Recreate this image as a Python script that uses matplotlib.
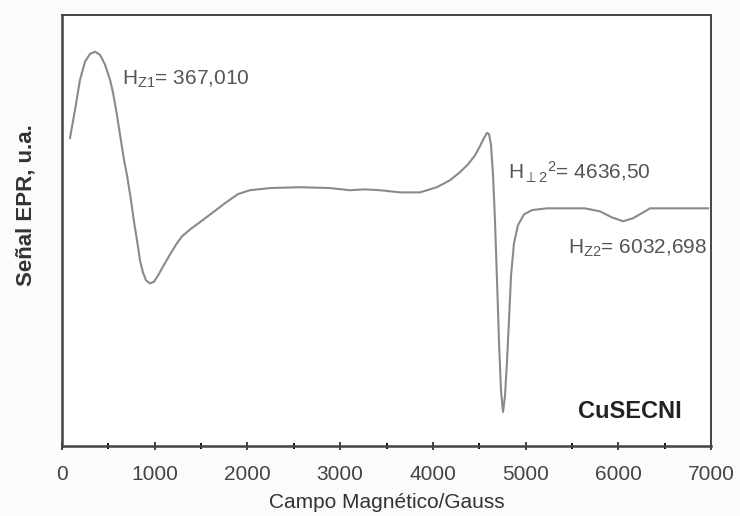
import numpy as np
import matplotlib.pyplot as plt

plt.rcParams['font.family'] = ['Liberation Sans', 'DejaVu Sans']
plt.rcParams['mathtext.fontset'] = 'custom'
plt.rcParams['mathtext.rm'] = 'Liberation Sans'
plt.rcParams['mathtext.it'] = 'Liberation Sans'

# campo magnetico (G) y señal EPR (u.a.)
campo = [86, 140, 194, 248, 302, 356, 410, 464, 518, 550, 593, 626, 669, 701,
         744, 777, 809, 841, 874, 906, 949, 992, 1035, 1089, 1165, 1230, 1294,
         1381, 1488, 1618, 1758, 1898, 2027, 2243, 2567, 2890, 3106, 3268,
         3430, 3645, 3861, 4044, 4184, 4293, 4379, 4455, 4508, 4552, 4584,
         4606, 4627, 4649, 4670, 4692, 4713, 4735, 4757, 4778, 4800, 4821,
         4843, 4875, 4918, 4983, 5069, 5231, 5425, 5641, 5803, 5932, 6051,
         6159, 6256, 6342, 6364, 6968]
senal = [71.4, 77.9, 84.9, 89.1, 90.9, 91.4, 90.7, 88.4, 84.9, 81.9, 76.7,
         72.1, 66.3, 62.8, 57.0, 51.9, 47.7, 43.0, 40.2, 38.4, 37.7, 38.1,
         39.5, 41.6, 44.4, 46.7, 48.6, 50.2, 51.9, 54.0, 56.3, 58.4, 59.3,
         59.8, 60.0, 59.8, 59.3, 59.5, 59.3, 58.8, 58.8, 60.0, 61.6, 63.5,
         65.3, 67.4, 69.5, 71.4, 72.6, 72.3, 69.8, 62.8, 52.3, 38.4, 24.4,
         12.8, 7.9, 11.6, 19.8, 29.1, 39.5, 47.0, 51.2, 53.7, 54.7, 55.1,
         55.1, 55.1, 54.4, 53.0, 52.1, 52.8, 54.0, 55.1, 55.1, 55.1]

xticks = [0, 1000, 2000, 3000, 4000, 5000, 6000, 7000]

fig = plt.figure(figsize=(7.4, 5.16), dpi=100)
ax = fig.add_axes([0.0838, 0.1356, 0.877, 0.836])

ax.plot(campo, senal, color='#8a8a8a', lw=1.5)

ax.set_xlim(0, 7000)
ax.set_ylim(0, 100)
ax.set_xticks(xticks)
ax.set_xticks(np.arange(500, 7000, 1000), minor=True)
ax.set_yticks([])
ax.tick_params(axis='x', direction='inout', length=6, width=1.3,
               colors='#333333', labelsize=15, labelcolor='#444444', pad=11)
ax.tick_params(axis='x', which='minor', direction='inout', length=5, width=1.3)
for s in ax.spines.values():
    s.set_color('#444444')
    s.set_linewidth(1.4)
ax.spines['bottom'].set_linewidth(1.8)
ax.spines['left'].set_linewidth(1.8)

ax.set_xlabel('Campo Magnético/Gauss', fontsize=15, color='#333333', labelpad=6)
ax.set_ylabel('Señal EPR, u.a.', fontsize=16, fontweight='bold', color='#333333')
ax.yaxis.set_label_coords(-0.040, 0.558)

tc = '#555555'
ax.text(647, 84.9, r'H$_{\rm Z1}$= 367,010', fontsize=15, color=tc, va='center')
ax.text(4811, 63.5, r'H$_{\perp 2}$$^{2}$= 4636,50', fontsize=15, color=tc, va='center')
ax.text(5458, 45.8, r'H$_{\rm Z2}$= 6032,698', fontsize=15, color=tc, va='center')
ax.text(5570, 8.1, 'CuSECNI', fontsize=17, fontweight='bold', color='#222222', va='center')

fig.savefig('out.png', dpi=100, facecolor='#fbfbfb')
